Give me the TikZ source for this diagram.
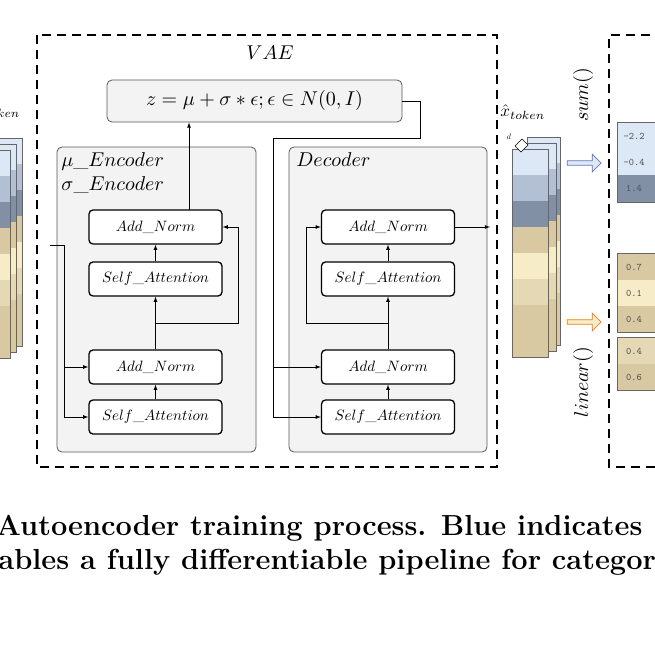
\documentclass[tikz,border=0pt]{standalone}
\usetikzlibrary{shapes.arrows,positioning}
\definecolor{cA}{HTML}{DDE8F7}
\definecolor{cB}{HTML}{B3BFD3}
\definecolor{cC}{HTML}{8290A6}
\definecolor{cD}{HTML}{D8C9A3}
\definecolor{cE}{HTML}{F7ECC8}
\definecolor{cF}{HTML}{E5D8B5}
\definecolor{boxgray}{HTML}{F3F3F3}
\newcommand{\tokstack}[3]{% x, top, width
\foreach \c [count=\i from 0] in {cA,cB,cC,cD,cE,cF,cD,cD}
  \fill[\c] (#1,#2+26*\i) rectangle ++(#3,26);
\draw[gray!80!black] (#1,#2) rectangle ++(#3,208);
}
\newcommand{\sz}[2]{\scalebox{#1}{#2}}
\begin{document}
\begin{tikzpicture}[x=1pt,y=-1pt,>=latex,line width=0.8pt]
\tikzstyle{block}=[rectangle,rounded corners=4pt,line width=1.3pt,draw=black,fill=white,
minimum width=133pt,minimum height=34pt,inner sep=1pt]
\tikzstyle{frame}=[rounded corners=5pt,draw=gray!70!black,fill=boxgray]
\tikzstyle{cell}=[font=\ttfamily\fontsize{10}{12}\selectfont,text=black!70]
\useasboundingbox (0,0) rectangle (655,655);
\clip (0,0) rectangle (655,655);

% dashed frames
\draw[line width=1.2pt,dash pattern=on 9pt off 6pt] (37,35) rectangle (497,467);
\draw[line width=1.2pt,dash pattern=on 9pt off 6pt] (680,35) -- (609,35) -- (609,467) -- (680,467);
\node at (270,53) {\sz{2}{$VAE$}};

% left token stacks (cut)
\tokstack{-30}{138}{52}
\tokstack{-36}{144}{52}
\tokstack{-42}{150}{52}
\node[anchor=east] at (24,113) {\sz{1.7}{$x_{token}$}};

% latent box
\node[frame,minimum width=295pt,minimum height=42pt] (z) at (254.5,101)
 {\sz{2}{$z=\mu+\sigma*\epsilon;\epsilon\in N(0,I)$}};

% encoder
\node[frame,minimum width=199pt,minimum height=305pt] (enc) at (156.5,299.5) {};
\node[anchor=north west,inner sep=0pt] (enct) at (61,152) {\sz{2}{$\mu\_Encoder$}};
\node[anchor=north west,inner sep=0pt] (enct2) at (61,176) {\sz{2}{$\sigma\_Encoder$}};
\node[block] (ean2) at (155.5,227) {\sz{1.5}{$Add\_Norm$}};
\node[block] (esa2) at (155.5,279) {\sz{1.5}{$Self\_Attention$}};
\node[block] (ean1) at (155.5,367) {\sz{1.5}{$Add\_Norm$}};
\node[block] (esa1) at (155.5,417) {\sz{1.5}{$Self\_Attention$}};

% decoder
\node[frame,minimum width=198pt,minimum height=305pt] (dec) at (388,299.5) {};
\node[anchor=north west,inner sep=0pt] (dect) at (296,152) {\sz{2}{$Decoder$}};
\node[block] (dan2) at (388,227) {\sz{1.5}{$Add\_Norm$}};
\node[block] (dsa2) at (388,279) {\sz{1.5}{$Self\_Attention$}};
\node[block] (dan1) at (388,367) {\sz{1.5}{$Add\_Norm$}};
\node[block] (dsa1) at (388,417) {\sz{1.5}{$Self\_Attention$}};

% encoder connections
\coordinate (ein) at (50,245);
\draw (ein) -- (64,245) -- (64,417);
\draw[->] (64,367) -- (ean1.west);
\draw[->] (64,417) -- (esa1.west);
\path[->] (esa1) edge (ean1);
\path[->] (ean1) edge (esa2);
\path[->] (esa2) edge (ean2);
\draw[->] (155.5,323) -- (238,323) -- (238,227) -- (ean2.east);
\draw[->] (189,210) -- (z.south -| 189,0);

% decoder connections
\draw (z.east) -- (420,101) -- (420,138) -- (273,138) -- (273,417);
\draw[->] (273,367) -- (dan1.west);
\draw[->] (273,417) -- (dsa1.west);
\path[->] (dsa1) edge (dan1);
\path[->] (dan1) edge (dsa2);
\path[->] (dsa2) edge (dan2);
\draw[->] (388,323) -- (306,323) -- (306,227) -- (dan2.west);
\coordinate (xout) at (490,227);
\draw[->] (dan2.east) -- (xout);

% reconstructed tokens
\tokstack{527}{137}{33}
\tokstack{520}{143}{36}
\tokstack{512}{149}{36}
\node[anchor=west,inner sep=0pt] at (500,112) {\sz{1.7}{$\hat{x}_{token}$}};
\node at (509,137) {\sz{0.8}{$d$}};
\draw[fill=white,line width=0.5pt] (515,146) -- (522,139) -- (528,145) -- (521,152) -- cycle;

% heads
\node[single arrow,draw=cC!80!blue,fill=cA,minimum height=34pt,minimum width=18pt,
 single arrow head extend=4pt,inner sep=1pt] (sarr) at (583,163) {};
\node[single arrow,draw=orange!70!brown,fill=cE,minimum height=34pt,minimum width=18pt,
 single arrow head extend=4pt,inner sep=1pt] (larr) at (583,322) {};
\node[rotate=90] at (583,95) {\sz{2}{$sum()$}};
\node[rotate=90] at (583,382) {\sz{2}{$linear()$}};

% outputs
\fill[cA] (617,122) rectangle (660,175);
\fill[cC] (617,175) rectangle (660,202);
\draw[gray!80!black] (617,122) rectangle (660,202);
\node[cell] at (634,136) {-2.2};
\node[cell] at (634,162) {-0.4};
\node[cell] at (634,188) {1.4};
\fill[cD] (617,253) rectangle (660,280);
\fill[cE] (617,280) rectangle (660,306);
\fill[cD] (617,306) rectangle (660,332);
\draw[gray!80!black] (617,253) rectangle (660,332);
\node[cell] at (634,267) {0.7};
\node[cell] at (634,293) {0.1};
\node[cell] at (634,319) {0.4};
\fill[cF] (617,337) rectangle (660,364);
\fill[cD] (617,364) rectangle (660,390);
\draw[gray!80!black] (617,337) rectangle (660,390);
\node[cell] at (634,351) {0.4};
\node[cell] at (634,377) {0.6};

% caption
\node[anchor=base west,inner sep=0pt] at (-4,535)
 {\fontsize{29}{34}\selectfont\bfseries Autoencoder training process. Blue indicates};
\node[anchor=base west,inner sep=0pt] at (-2,569)
 {\fontsize{29}{34}\selectfont\bfseries ables a fully differentiable pipeline for categor};
\end{tikzpicture}
\end{document}
